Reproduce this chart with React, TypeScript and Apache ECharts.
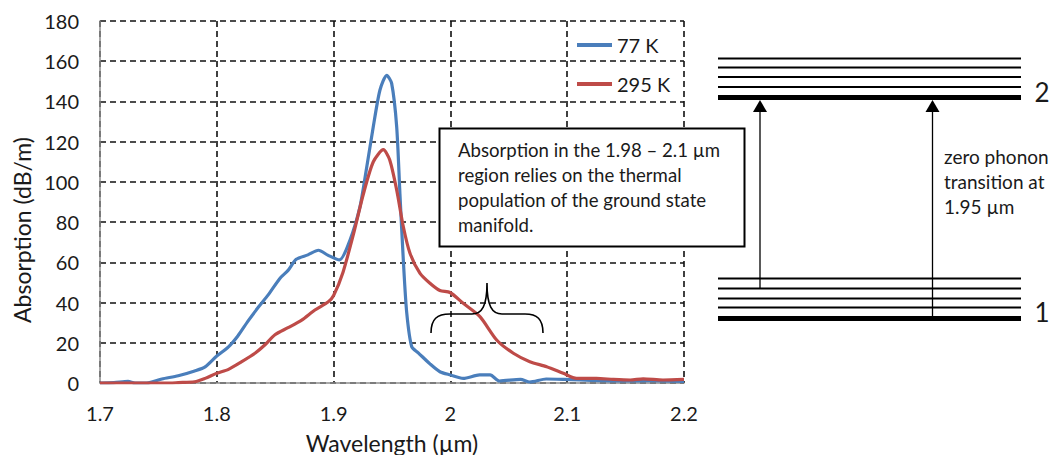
import React, { useEffect, useRef } from "react";
import * as echarts from "echarts";

const xTicks = [1.7, 1.8, 1.9, 2.0, 2.1, 2.2];
const yTicks = [0, 20, 40, 60, 80, 100, 120, 140, 160, 180];

const blueWl = [1.7, 1.712, 1.724, 1.73, 1.74, 1.753, 1.767, 1.781, 1.79, 1.8, 1.81, 1.818, 1.827, 1.836, 1.844, 1.854, 1.861, 1.868, 1.878, 1.887, 1.895, 1.905, 1.914, 1.9226, 1.928, 1.934, 1.9397, 1.9455, 1.9497, 1.954, 1.9568, 1.9597, 1.9626, 1.9669, 1.9725, 1.9825, 1.991, 2.0, 2.011, 2.025, 2.034, 2.042, 2.06, 2.068, 2.082, 2.097, 2.111, 2.13, 2.15, 2.17, 2.2];
const blueVal = [0, 0.2, 0.8, 0, 0, 2, 3.6, 6, 8, 13.4, 18, 23.4, 31, 38, 43.8, 52, 56, 61.5, 63.7, 66, 63.6, 61.2, 71, 87.7, 106, 127.5, 145.7, 153, 149, 127.5, 94, 61, 35, 18, 15, 9.5, 5.6, 4, 2.3, 4, 4, 1, 1.8, 0.5, 2, 1.8, 1.5, 1.2, 1, 1.2, 0.8];

const redWl = [1.7, 1.76, 1.767, 1.781, 1.79, 1.8, 1.81, 1.8213, 1.8327, 1.8413, 1.8498, 1.861, 1.8727, 1.884, 1.8955, 1.9, 1.908, 1.917, 1.9255, 1.934, 1.9426, 1.948, 1.954, 1.9597, 1.9654, 1.974, 1.9825, 1.991, 1.9997, 2.011, 2.0253, 2.0396, 2.0539, 2.068, 2.0824, 2.0967, 2.108, 2.125, 2.1395, 2.154, 2.165, 2.182, 2.2];
const redVal = [0, 0, 0.2, 0.6, 2.3, 4.8, 6.8, 10.6, 14.8, 19, 24, 27.5, 31.3, 36.3, 40.4, 43.5, 55, 74, 94, 110, 116, 111, 96, 77.7, 64.5, 54.5, 49.6, 46, 45, 39.6, 33, 21.4, 14.8, 10.6, 8.1, 4.8, 2.3, 2.3, 1.8, 1.5, 2.1, 1.5, 1.8];

const seriesNames = ["77 K", "295 K"];
const boxLines = [
  "Absorption in the 1.98 \u2013 2.1 \u00b5m",
  "region relies on the thermal",
  "population of the ground state",
  "manifold.",
];
const noteLines = ["zero phonon", "transition at", "1.95 \u00b5m"];
const levelLabels = ["2", "1"];

const FONT = "Lato, 'Open Sans', sans-serif";
const TXT = "#1a1a1a";

export default function App() {
  const ref = useRef<HTMLDivElement>(null);
  useEffect(() => {
    if (!ref.current) return;
    const braceD =
      "M431 333 C431 319 437 314 450 314 L472 314 C482 314 487 306 487 283 C487 306 492 314 502 314 L525 314 C537 314 543 319 543 333";
    try {
      echarts.graphic.registerShape("brace", echarts.graphic.extendPath(braceD, {}));
    } catch (e) {}
    const chart = echarts.init(ref.current, undefined, { renderer: "svg" });

    const upperY = [58.5, 67.5, 77, 87];
    const lowerY = [278.5, 288.5, 298.5, 307.5];
    const graphics: any[] = [];
    upperY.concat(lowerY).forEach((y) => {
      graphics.push({ type: "line", shape: { x1: 718, y1: y, x2: 1021, y2: y }, style: { stroke: "#000", lineWidth: 2 } });
    });
    [97.5, 318.5].forEach((y) => {
      graphics.push({ type: "line", shape: { x1: 718, y1: y, x2: 1021, y2: y }, style: { stroke: "#000", lineWidth: 5 } });
    });
    [
      { x: 760, y0: 288 },
      { x: 932.5, y0: 318 },
    ].forEach((a) => {
      graphics.push({ type: "line", shape: { x1: a.x, y1: a.y0, x2: a.x, y2: 110 }, style: { stroke: "#000", lineWidth: 1.3 } });
      graphics.push({
        type: "polygon",
        shape: { points: [[a.x, 100], [a.x - 7, 112], [a.x + 7, 112]] },
        style: { fill: "#000" },
      });
    });
    graphics.push({ type: "text", x: 1042, y: 92, style: { text: levelLabels[0], font: `26px ${FONT}`, fill: TXT, align: "center", verticalAlign: "middle" } });
    graphics.push({ type: "text", x: 1042, y: 312, style: { text: levelLabels[1], font: `26px ${FONT}`, fill: TXT, align: "center", verticalAlign: "middle" } });
    noteLines.forEach((t, i) => {
      graphics.push({ type: "text", x: 944, y: 156 + i * 25, style: { text: t, font: `19px ${FONT}`, fill: TXT, verticalAlign: "middle" } });
    });
    graphics.push({
      type: "rect",
      z: 10,
      shape: { x: 439.5, y: 128.5, width: 305, height: 118 },
      style: { fill: "#fff", stroke: "#000", lineWidth: 2 },
    });
    boxLines.forEach((t, i) => {
      graphics.push({ type: "text", z: 11, x: 458, y: 150 + i * 25, style: { text: t, font: `18.6px ${FONT}`, fill: TXT, verticalAlign: "middle" } });
    });
    graphics.push({ type: "brace", z: 11, x: 0, y: 0, style: { fill: "none", stroke: "#000", lineWidth: 1.6 } });

    const splitStyle = { show: true, lineStyle: { color: "#111", type: [6, 4] as any, width: 1.6 } };

    chart.setOption({
      animation: false,
      textStyle: { fontFamily: FONT },
      grid: { left: 100, right: 374, top: 21, bottom: 72, containLabel: false, outerBoundsMode: "none" },
      legend: {
        data: seriesNames,
        orient: "vertical",
        left: 572,
        top: 29,
        icon: "rect",
        itemWidth: 35,
        itemHeight: 4,
        itemGap: 17,
        textStyle: { fontSize: 20, color: TXT, fontFamily: FONT, lineHeight: 22, height: 22 },
      },
      xAxis: {
        type: "value",
        min: xTicks[0],
        max: xTicks[xTicks.length - 1],
        interval: 0.1,
        name: "Wavelength (\u00b5m)",
        nameLocation: "middle",
        nameGap: 48,
        nameTextStyle: { fontSize: 23, color: TXT, fontFamily: FONT },
        axisLine: { show: true, lineStyle: { color: "#8c8c8c", width: 1.5 } },
        axisTick: { show: false },
        axisLabel: {
          fontSize: 20,
          color: TXT,
          margin: 20,
          fontFamily: FONT,
          formatter: (v: number) => String(+v.toFixed(1)),
        },
        splitLine: splitStyle,
      },
      yAxis: {
        type: "value",
        min: yTicks[0],
        max: yTicks[yTicks.length - 1],
        interval: 20,
        name: "Absorption (dB/m)",
        nameLocation: "middle",
        nameGap: 66,
        nameTextStyle: { fontSize: 23, color: TXT, fontFamily: FONT, padding: [0, 56, 0, 0] },
        axisLine: { show: true, lineStyle: { color: "#8c8c8c", width: 1.5 } },
        axisTick: { show: false },
        axisLabel: { fontSize: 20, color: TXT, margin: 21, fontFamily: FONT },
        splitLine: splitStyle,
      },
      series: [
        {
          name: seriesNames[0],
          type: "line",
          symbol: "none",
          smooth: 0.25,
          data: blueWl.map((x, i) => [x, blueVal[i]]),
          lineStyle: { color: "#4a7ebb", width: 3.2 },
          itemStyle: { color: "#4a7ebb" },
        },
        {
          name: seriesNames[1],
          type: "line",
          symbol: "none",
          smooth: 0.25,
          data: redWl.map((x, i) => [x, redVal[i]]),
          lineStyle: { color: "#be4b48", width: 3.2 },
          itemStyle: { color: "#be4b48" },
        },
      ],
      graphic: graphics,
    });
    return () => chart.dispose();
  }, []);
  return (
    <div
      ref={ref}
      style={{ position: "fixed", left: 0, top: 0, width: 1058, height: 455, background: "#fff" }}
    />
  );
}
